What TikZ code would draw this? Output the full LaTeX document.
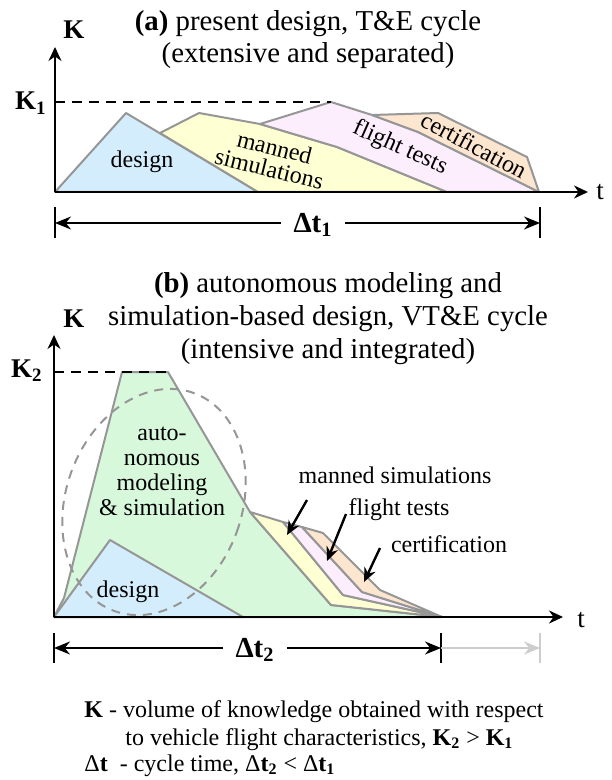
\documentclass[tikz,border=0pt]{standalone}
\usepackage{fontspec}
\setmainfont{Liberation Serif}
\usetikzlibrary{arrows.meta}
\definecolor{cdesign}{RGB}{212,237,252}
\definecolor{cmanned}{RGB}{255,255,212}
\definecolor{cflight}{RGB}{252,238,252}
\definecolor{ccert}{RGB}{253,230,208}
\definecolor{cauto}{RGB}{216,248,220}
\definecolor{cedge}{RGB}{150,150,150}
\definecolor{clight}{RGB}{205,205,205}
\begin{document}
\begin{tikzpicture}[x=0.5pt,y=-0.5pt,
 region/.style={draw=cedge, line width=1pt, line join=round},
 axisline/.style={line width=1.1pt, -{Stealth[length=7pt,width=6.5pt]}},
 dimline/.style={line width=1pt, -{Stealth[length=8pt,width=6.5pt]}},
 barline/.style={line width=1pt},
 lbl/.style={font=\fontsize{12}{12.5}\selectfont, inner sep=0pt},
 ttl/.style={font=\fontsize{14.4}{16}\selectfont, align=center, inner sep=0pt},
 axlbl/.style={font=\fontsize{13.5}{14}\selectfont\bfseries, inner sep=0pt},
 kdash/.style={dash pattern=on 5pt off 3.5pt, line width=1pt},
 ptr/.style={line width=1.2pt, -{Stealth[length=7pt,width=6pt]}},
 ell/.style={draw=cedge, dash pattern=on 4.5pt off 3.5pt, line width=1pt},
]
\useasboundingbox (0,0) rectangle (611,780);

% ---------------- panel (a) ----------------
\node[ttl] (ta) at (308,40) {\textbf{(a)} present design, T\&E cycle\\(extensive and separated)};

\draw[region, fill=cdesign] (55,192) -- (126,113) -- (258,192) -- cycle;
\draw[region, fill=cmanned] (160,133) -- (199,113) -- (260,124) -- (337,147) -- (447,192) -- (258,192) -- cycle;
\draw[region, fill=cflight] (260,124) -- (331,102) -- (372,115) -- (418,132) -- (539,192) -- (447,192) -- (337,147) -- cycle;
\draw[region, fill=ccert] (372,115) -- (438,113) -- (527,157) -- (539,192) -- (418,132) -- cycle;

\node[lbl, anchor=base] (desa) at (142,168) {design};
\node[lbl, align=center, rotate=-14, font=\fontsize{12}{11}\selectfont] (mana) at (272,158) {manned\\simulations};
\node[lbl, rotate=-24] (flta) at (400,148) {flight tests};
\node[lbl, rotate=-28] (cera) at (474,145) {certification};

\coordinate (oa) at (55,192);
\coordinate (ya) at (55,47);
\coordinate (xa) at (588,192);
\coordinate (k1a) at (55,102);
\coordinate (pka) at (331,102);
\draw[kdash] (k1a) -- (pka);
\draw[axisline] (oa) -- (ya);
\draw[axisline] (oa) -- (xa);
\node[axlbl, anchor=base] (Ka) at (74,39) {K};
\node[axlbl, anchor=base east] (K1) at (47,110) {K\textsubscript{1}};
\node[font=\fontsize{13.5}{14}\selectfont, inner sep=0pt, anchor=base west] (ta1) at (596,200) {t};

\coordinate (la1) at (55,223);
\coordinate (ra1) at (540,223);
\draw[barline] (55,207) -- (55,238);
\draw[barline] (540,207) -- (540,238);
\node[axlbl, font=\fontsize{14.5}{15}\selectfont\bfseries, inner xsep=6pt] (dt1) at (313,225) {Δt\textsubscript{1}};
\draw[dimline] (dt1.west |- la1) -- (la1);
\draw[dimline] (dt1.east |- ra1) -- (ra1);

% ---------------- panel (b) ----------------
\node[ttl, font=\fontsize{14.4}{16.5}\selectfont] (tb) at (328,319) {\textbf{(b)} autonomous modeling and\\simulation-based design, VT\&E cycle\\(intensive and integrated)};

\draw[region, fill=cauto] (54,617) -- (64,598) -- (122,372) -- (168,372) -- (250,512) -- (331,605) -- (442,617) -- cycle;
\draw[region, fill=cmanned] (250,512) -- (283,522) -- (343,595) -- (442,617) -- (331,605) -- cycle;
\draw[region, fill=cflight] (283,522) -- (302,527) -- (362,592) -- (442,617) -- (343,595) -- cycle;
\draw[region, fill=ccert] (302,527) -- (323,533) -- (380,590) -- (442,617) -- (362,592) -- cycle;
\draw[region, fill=cdesign] (54,617) -- (110,540) -- (243,617) -- cycle;

\coordinate (ec) at (154,502);
\draw[ell, rotate around={-20:(ec)}] (ec) ellipse [x radius=44pt, y radius=58pt];

\node[lbl, align=center] (autob) at (162,471) {auto-\\nomous\\modeling\\\& simulation};
\node[lbl, anchor=base] (desb) at (128,597) {design};

\node[lbl] (manb) at (395,475) {manned simulations};
\node[lbl] (fltb) at (399,510) {flight tests};
\node[lbl] (cerb) at (449,544) {certification};
\coordinate (manS) at (307,500);
\coordinate (manT) at (287,535);
\coordinate (fltS) at (346,514);
\coordinate (fltT) at (327,561);
\coordinate (cerS) at (380,548);
\coordinate (cerT) at (364,582);
\draw[ptr] (manS) -- (manT);
\draw[ptr] (fltS) -- (fltT);
\draw[ptr] (cerS) -- (cerT);

\coordinate (ob) at (54,617);
\coordinate (yb) at (54,335);
\coordinate (xb) at (563,617);
\coordinate (k2b) at (54,372);
\coordinate (pkb) at (168,372);
\draw[kdash] (k2b) -- (pkb);
\draw[axisline] (ob) -- (yb);
\draw[axisline] (ob) -- (xb);
\node[axlbl, anchor=base] (Kb) at (74,328) {K};
\node[axlbl, anchor=base east] (K2) at (43,377) {K\textsubscript{2}};
\node[font=\fontsize{13.5}{14}\selectfont, inner sep=0pt, anchor=base west] (tb1) at (577,627) {t};

\coordinate (lb2) at (54,648);
\coordinate (rb2) at (441,648);
\coordinate (gb2) at (540,648);
\draw[barline] (54,633) -- (54,663);
\draw[barline] (441,633) -- (441,663);
\draw[barline, clight] (540,633) -- (540,663);
\node[axlbl, font=\fontsize{14.5}{15}\selectfont\bfseries, inner xsep=6pt] (dt2) at (255,650) {Δt\textsubscript{2}};
\draw[dimline] (dt2.west |- lb2) -- (lb2);
\draw[dimline] (dt2.east |- rb2) -- (rb2);
\draw[dimline, clight] (rb2) -- (gb2);

% ---------------- legend ----------------
\node[lbl, anchor=base west] (lg1) at (84,717) {\textbf{K} - volume of knowledge obtained with respect};
\node[lbl, anchor=base west] (lg2) at (125,745) {to vehicle flight characteristics, \textbf{K\textsubscript{2}} > \textbf{K\textsubscript{1}}};
\node[lbl, anchor=base west] (lg3) at (84,771) {Δ\textbf{t}\ \ - cycle time, Δ\textbf{t\textsubscript{2}} < Δ\textbf{t\textsubscript{1}}};
\end{tikzpicture}
\end{document}
